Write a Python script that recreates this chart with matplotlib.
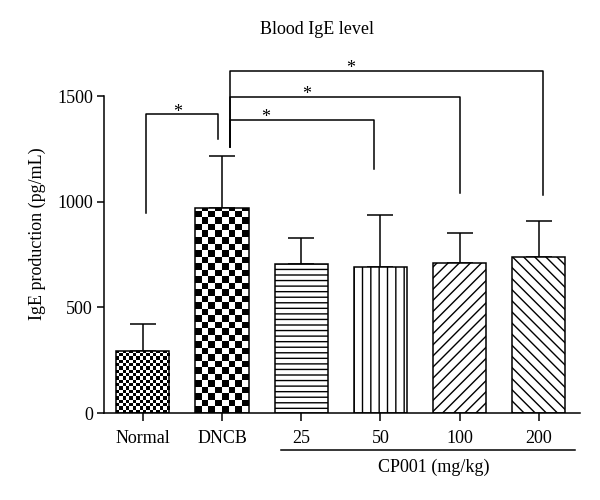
import numpy as np
import matplotlib.pyplot as plt

plt.rcParams['font.family'] = ['Liberation Serif', 'DejaVu Serif']

# bar data (pg/mL)
groups = ['Normal', 'DNCB', '25', '50', '100', '200']
means = [295, 972, 705, 692, 711, 738]
sd = [126, 244, 122, 245, 141, 172]
hatches = ['check_fine', 'check_coarse', '---', '||', '///', '\\\\\\']

# significance brackets: (x_left, x_right, y_top, y_left_end, y_right_end, star_x)
brackets = [
    (0.04, 0.95, 1415, 946, 1297, 0.44),
    (1.10, 2.92, 1387, 1259, 1155, 1.55),
    (1.10, 4.00, 1496, 1259, 1041, 2.07),
    (1.10, 5.05, 1619, 1259, 1032, 2.62),
]

fig = plt.figure(figsize=(6, 5), dpi=100)
ax = fig.add_axes([0.1733, 0.174, 0.7934, 0.7184])

x = np.arange(len(groups))
width = 0.67
bars = ax.bar(x, means, width=width, color='white', edgecolor='black',
              linewidth=1.1, zorder=2)
for b, h in zip(bars, hatches):
    if h.startswith('check'):
        b.set_facecolor('none')
    else:
        b.set_hatch(h)

ax.errorbar(x, means, yerr=[np.zeros(len(sd)), sd], fmt='none', ecolor='black',
            elinewidth=1.1, capsize=9.7, capthick=1.1, zorder=1)

ax.set_xlim(-0.49, 5.52)
ax.set_ylim(0, 1700)

# checkerboard fills for the first two bars
px_per_x = 79.2
px_per_y = 0.2113
for b, h in zip(bars, hatches):
    if not h.startswith('check'):
        continue
    s = 3.3 if h == 'check_fine' else 6.5
    x0, w, hgt = b.get_x(), b.get_width(), b.get_height()
    nc = int(round(w * px_per_x / s))
    nr = int(np.ceil(hgt * px_per_y / s))
    board = (np.indices((nr, nc)).sum(axis=0) % 2).astype(float)
    im = ax.imshow(board, cmap='gray', extent=(x0, x0 + w, 0, nr * s / px_per_y),
                   origin='lower', interpolation='nearest', aspect='auto', zorder=1.5)
    im.set_clip_path(b)
ax.set_xlim(-0.49, 5.52)
ax.set_ylim(0, 1700)

for xl, xr, yt, yl, yr, sx in brackets:
    ax.plot([xl, xl, xr, xr], [yl, yt, yt, yr], color='black', lw=1.1,
            clip_on=False)
    ax.text(sx, yt - 12, '*', ha='center', va='baseline', fontsize=13)

ax.spines['top'].set_visible(False)
ax.spines['right'].set_visible(False)
ax.spines['left'].set_bounds(0, 1500)
for sp in ('left', 'bottom'):
    ax.spines[sp].set_linewidth(1.1)

ax.set_yticks([0, 500, 1000, 1500])
ax.set_xticks(x)
ax.set_xticklabels(groups)
ax.tick_params(axis='both', direction='out', width=1.1, labelsize=13)
ax.tick_params(axis='x', length=6, pad=6)
ax.tick_params(axis='y', length=5, pad=3)
ax.set_ylabel('IgE production (pg/mL)', fontsize=13, labelpad=8)

fig.text(0.528, 0.94, 'Blood IgE level', ha='center', va='center', fontsize=13)

# CP001 group line
fig.add_artist(plt.Line2D([281 / 600, 575 / 600], [1 - 450 / 500, 1 - 450 / 500],
                          color='black', lw=1.1))
fig.text(434 / 600, 1 - 467 / 500, 'CP001 (mg/kg)', ha='center', va='center',
         fontsize=13)

fig.savefig('out.png', dpi=100)
